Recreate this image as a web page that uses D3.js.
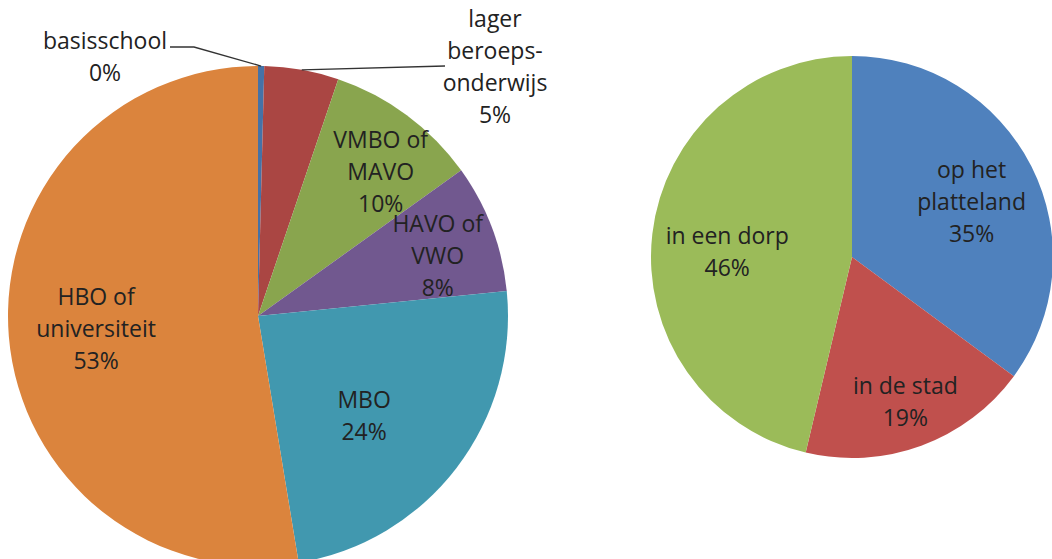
<!DOCTYPE html>
<html>
<head>
<meta charset="utf-8">
<script src="https://cdn.jsdelivr.net/npm/d3@7"></script>
<style>
  body { margin: 0; background: #fff; }
  svg text { font-family: "Open Sans", "Noto Sans", sans-serif; font-size: 23px; fill: #222; }
</style>
</head>
<body>
<svg id="chart" width="1052" height="559"></svg>
<script>
// opleiding (linker taart)
const eduLabels = [["basisschool"], ["lager", "beroeps-", "onderwijs"], ["VMBO of", "MAVO"], ["HAVO of", "VWO"], ["MBO"], ["HBO of", "universiteit"]];
const eduValues = [0.4, 4.8, 9.9, 8.3, 24.0, 52.6];
const eduColors = ["#4572A7", "#AA4643", "#89A54E", "#71588F", "#4198AF", "#DB843D"];

// woonplaats (rechter taart)
const woonLabels = [["op het", "platteland"], ["in de stad"], ["in een dorp"]];
const woonValues = [35.1, 18.6, 46.3];
const woonColors = ["#4F81BD", "#C0504D", "#9BBB59"];

const svg = d3.select("#chart");
const lineH = 32;

function drawLabel(g, lines, x, y) {
    var t = g.append("text").attr("text-anchor", "middle");
    lines.forEach(function(l, i) {
        t.append("tspan")
            .attr("x", x)
            .attr("y", y + (i - (lines.length - 1) / 2) * lineH + 8)
            .text(l);
    });
}

function drawPie(cx, cy, r, labels, values, colors, ratios, nudge, outside) {
    var total = d3.sum(values);
    var pie = d3.pie().sort(null).value(function(d) { return d; });
    var arcs = pie(values);
    var arc = d3.arc().innerRadius(0).outerRadius(r);
    var g = svg.append("g").attr("transform", "translate(" + cx + "," + cy + ")");

    g.selectAll("path.slice")
        .data(arcs)
        .join("path")
        .attr("class", "slice")
        .attr("d", arc)
        .attr("fill", function(d, i) { return colors[i]; });

    arcs.forEach(function(d, i) {
        var pct = Math.round(d.value / total * 100) + "%";
        var lines = labels[i].concat([pct]);
        if (outside[i]) {
            var o = outside[i];
            var mid = (d.startAngle + d.endAngle) / 2;
            var px = Math.sin(mid) * r, py = -Math.cos(mid) * r;
            g.append("path")
                .attr("d", d3.line()([[px, py]].concat(o.path)))
                .attr("fill", "none")
                .attr("stroke", "#333")
                .attr("stroke-width", 1.3);
            drawLabel(g, lines, o.x, o.y);
        } else {
            var c = d3.arc().innerRadius(0).outerRadius(r * ratios[i] * 2).centroid(d);
            drawLabel(g, lines, c[0] + nudge[i][0], c[1] + nudge[i][1]);
        }
    });
}

// labels buiten de taart: positie t.o.v. middelpunt + knik van de verbindingslijn
drawPie(258, 316, 250, eduLabels, eduValues, eduColors,
    [0, 0, 0.73, 0.76, 0.58, 0.65],
    [[0, 0], [0, 0], [14, 3], [2, 7], [-9, 12], [0, 0]],
    [{x: -153, y: -259, path: [[-64, -269], [-88, -269]]},
     {x: 237, y: -249, path: [[187, -250]]},
     null, null, null, null]);

drawPie(852, 257, 201, woonLabels, woonValues, woonColors,
    [0.65, 0.77, 0.62],
    [[3, 4], [0, 0], [-1, 9]],
    [null, null, null]);
</script>
</body>
</html>
